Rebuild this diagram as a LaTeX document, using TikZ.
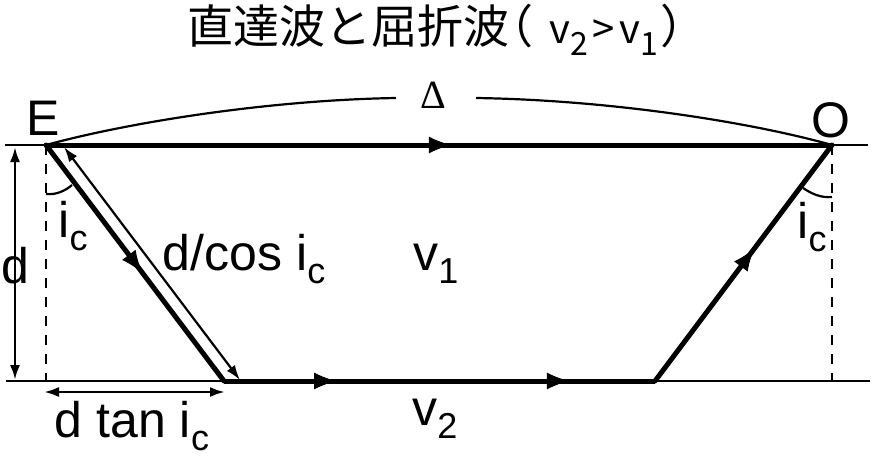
\documentclass[tikz,border=0pt]{standalone}
\usepackage{fontspec}
\setmainfont{Liberation Sans}
\newfontfamily\cjk{Noto Sans CJK JP}
\newfontfamily\deltafont{Liberation Serif}
\usetikzlibrary{arrows.meta,decorations.markings,calc}
\newcommand\lowsub[1]{\raisebox{-13pt}{\fontsize{36}{36}\selectfont #1}}
\newcommand\titlesub[1]{\raisebox{-12pt}{\fontsize{32}{32}\selectfont #1}}
\tikzset{
  surface/.style = {line width=2.6pt},
  ray/.style     = {line width=5pt},
  thinray/.style = {line width=2.2pt},
  dimtip/.style  = {{Latex[length=15pt,width=10pt]}-{Latex[length=15pt,width=10pt]}},
  dimen/.style   = {line width=2.6pt, dimtip},
  normal/.style  = {line width=2.2pt, dash pattern=on 10pt off 9pt},
  label/.style   = {inner sep=0pt, anchor=base, font=\fontsize{50}{50}\selectfont},
  midtip/.style  = {postaction={decorate, decoration={markings,
                    mark=at position #1 with {\arrow[line width=1pt]{Latex[length=22pt,width=17pt]}}}}}
}
\begin{document}
\begin{tikzpicture}[x=1pt,y=-1pt]
  \useasboundingbox (0,0) rectangle (873,459);

  \coordinate (E) at (46,145);
  \coordinate (O) at (832,145);
  \coordinate (A) at (224,381);
  \coordinate (B) at (655,381);
  \coordinate (topl) at (5,145);
  \coordinate (topr) at (868,145);
  \coordinate (botl) at (6,381);
  \coordinate (botr) at (870,381);

  % layers
  \draw[surface] (topl) -- (topr);
  \draw[surface] (botl) -- (botr);

  % rays
  \draw[ray,midtip=0.515] (E) -- (O);
  \draw[ray,midtip=0.54,line cap=round] (E) -- (A);
  \draw[ray,midtip=0.26,midtip=0.80] (A) -- (B);
  \draw[ray,midtip=0.56,line cap=round] (B) -- (O);

  % normals
  \coordinate (Ef) at (46,381);
  \coordinate (Of) at (832,381);
  \draw[normal] (E) -- (Ef);
  \draw[normal] (O) -- (Of);

  % dimensions
  \coordinate (d1) at (15,147);
  \coordinate (d2) at (15,380);
  \coordinate (t1) at (44,392);
  \coordinate (t2) at (225,392);
  \coordinate (c1) at (64,147);
  \coordinate (c2) at (240,380);
  \draw[dimen] (d1) -- (d2);
  \draw[dimen] (t1) -- (t2);
  \draw[thinray,dimtip] (c1) -- (c2);

  % delta span
  \coordinate (gl) at (396,98);
  \coordinate (gr) at (476,98);
  \draw[thinray] (E) .. controls (130,122) and (270,100) .. (gl);
  \draw[thinray] (gr) .. controls (610,100) and (750,122) .. (O);

  % angles
  \coordinate (al1) at (46,194);
  \coordinate (al2) at (72,185);
  \coordinate (ar1) at (803,188);
  \coordinate (ar2) at (832,197);
  \draw[thinray] (al1) .. controls (56,195) and (65,191) .. (al2);
  \draw[thinray] (ar1) .. controls (812,194) and (821,198) .. (ar2);

  % labels
  \node[inner sep=0pt,anchor=base west,font=\cjk\fontsize{46}{46}\selectfont] (title) at (187,43)
    {直達波と屈折波\hspace*{-22pt}（\hspace*{16pt}{\fontsize{40}{40}\selectfont v}\titlesub{2}\hspace*{5pt}{\fontsize{40}{40}\selectfont >}\hspace*{5pt}{\fontsize{40}{40}\selectfont v}\titlesub{1}\hspace*{2pt}）};
  \node[label,font=\deltafont\fontsize{40}{40}\selectfont] (delta) at (433,108) {Δ};
  \node[label] (lE) at (43,135) {E};
  \node[label] (lO) at (831,137) {O};
  \node[label] (ld) at (15,283) {d};
  \node[label] (lil) at (73,237) {i\lowsub{c}};
  \node[label] (lir) at (812,238) {i\lowsub{c}};
  \node[label] (lcos) at (244,270) {d/cos i\lowsub{c}};
  \node[label] (lv1) at (436,270) {v\lowsub{1}};
  \node[label] (lv2) at (435,425) {v\lowsub{2}};
  \node[label] (ltan) at (132,437) {d tan i\lowsub{c}};
\end{tikzpicture}
\end{document}
